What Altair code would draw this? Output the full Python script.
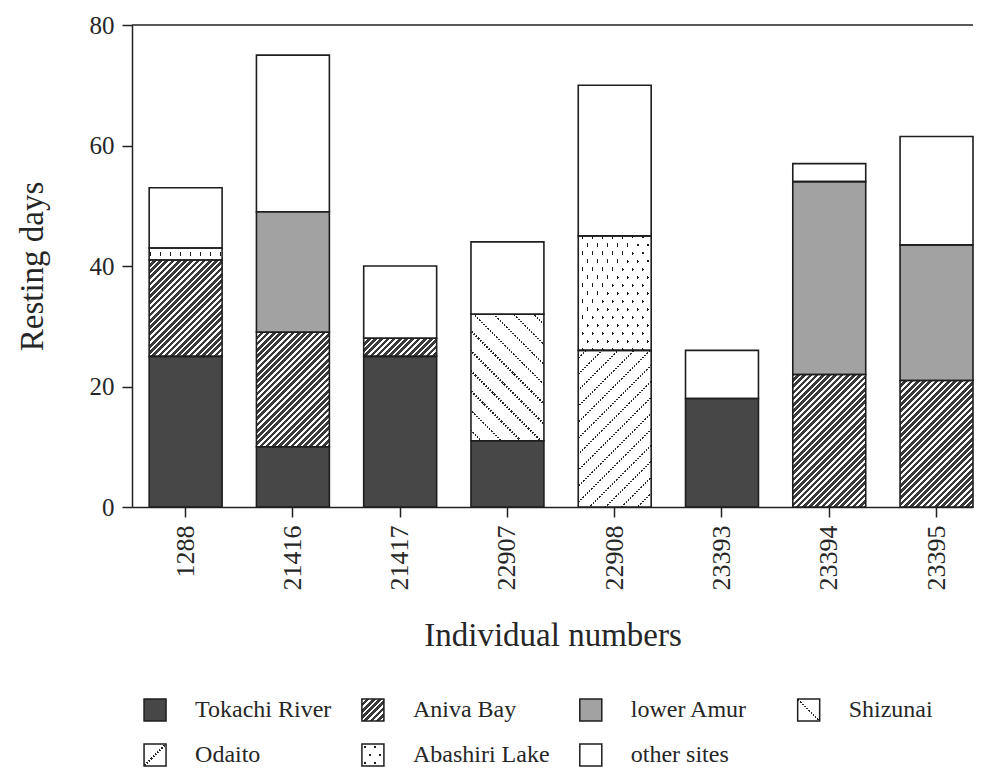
import math
import altair as alt
import pandas as pd

# ---------------- data ----------------
ids = ["1288", "21416", "21417", "22907", "22908", "23393", "23394", "23395"]
sites = ["Tokachi River", "Aniva Bay", "lower Amur", "Shizunai", "Odaito",
         "Abashiri Lake", "other sites"]
tokachi = [25, 10, 25, 11, 0, 18, 0, 0]
aniva = [16, 19, 3, 0, 0, 0, 22, 21]
amur = [0, 20, 0, 0, 0, 0, 32, 22.5]
shizunai = [0, 0, 0, 21, 0, 0, 0, 0]
odaito = [0, 0, 0, 0, 26, 0, 0, 0]
abashiri = [2, 0, 0, 0, 19, 0, 0, 0]
other = [10, 26, 12, 12, 25, 8, 3, 18]
y_ticks = [0, 20, 40, 60, 80]

series = [tokachi, aniva, amur, shizunai, odaito, abashiri, other]
rows = []
for j, id_ in enumerate(ids):
    base = 0
    for s, vals in zip(sites, series):
        v = vals[j]
        if v > 0:
            rows.append({"id": id_, "site": s, "y0": base, "y1": base + v, "v": v})
            base += v
df = pd.DataFrame(rows)

# ---------------- style ----------------
FONT = "Liberation Serif"
TXT = "#262626"
AX = "#222222"
W, H = 841, 482
PI, PO = 0.32, 0.08
step = W / (len(ids) - PI + 2 * PO)
bw = step * (1 - PI)
ppu = H / 80.0
CLEAR = "rgba(255,255,255,0)"
base_colors = ["#474747", "#3a3a3a", "#a2a2a2", "#ffffff", "#ffffff", "#ffffff", "#ffffff"]


def lin_grad(w, h, nx, ny, period, lw, line_col, bg_col, phase=None):
    """Striped linear gradient (objectBoundingBox) with stripes of given pixel period."""
    n = math.hypot(nx, ny)
    nx, ny = nx / n, ny / n
    vals = [(nx * u * w + ny * v * h, u, v) for u, v in [(0, 0), (1, 0), (0, 1), (1, 1)]]
    tmin, u0, v0 = min(vals)
    tmax = max(vals)[0]
    L = tmax - tmin
    k = L / (nx * nx * w * w + ny * ny * h * h)
    a, b = k * nx * w, k * ny * h
    if phase is None:
        phase = (period - lw) / 2
    st = [(0.0, bg_col)]
    pos = phase
    while pos < L:
        s0 = max(pos, 0) / L
        s1 = min(pos + lw, L) / L
        if s1 > s0:
            st += [(s0, bg_col), (s0, line_col), (s1, line_col), (s1, bg_col)]
        pos += period
    st.append((1.0, bg_col))
    return alt.LinearGradient(
        gradient="linear",
        stops=[alt.GradientStop(offset=round(o, 5), color=c) for o, c in st],
        x1=u0, y1=v0, x2=u0 + a, y2=v0 + b,
    )


def patterns(site, w, h, legend=False):
    g = []
    if site == "Aniva Bay":
        g.append(lin_grad(w, h, 1, 1, 4.4, 1.8, "#ffffff", CLEAR))
    elif site == "Shizunai":
        if legend:
            g.append(lin_grad(w, h, 1, -1, 200, 1.6, "#2a2a2a", CLEAR, phase=(w + h) / math.sqrt(2) / 2 - 0.8))
        else:
            g.append(lin_grad(w, h, 1, -1, 14.1, 1.6, "#2a2a2a", CLEAR))
        g.append(lin_grad(w, h, 1, 1, 3.0, 1.6, CLEAR, "#ffffff"))
    elif site == "Odaito":
        if legend:
            g.append(lin_grad(w, h, 1, 1, 200, 1.6, "#2a2a2a", CLEAR, phase=(w + h) / math.sqrt(2) / 2 - 0.8))
        else:
            g.append(lin_grad(w, h, 1, 1, 11.3, 1.6, "#2a2a2a", CLEAR))
        g.append(lin_grad(w, h, 1, -1, 3.0, 1.6, CLEAR, "#ffffff"))
    elif site == "Abashiri Lake":
        g.append(lin_grad(w, h, 8, -5, 8.5, 1.9, "#1e1e1e", CLEAR))
        g.append(lin_grad(w, h, 8, 5, 8.5, 1.9, CLEAR, "#ffffff"))
    return g


# ---------------- main chart ----------------
X = alt.X(
    "id:N", sort=ids,
    scale=alt.Scale(domain=ids, paddingInner=PI, paddingOuter=PO, align=1),
    axis=alt.Axis(
        title="Individual numbers", labelAngle=270, labelFont=FONT, labelFontSize=26,
        labelColor=TXT, labelPadding=8, tickSize=10, tickColor=AX, tickWidth=1.5,
        domainColor=AX, domainWidth=1.5, titleFont=FONT, titleFontSize=33,
        titleFontWeight="normal", titleColor=TXT, titlePadding=29,
    ),
)
Y = alt.Y(
    "y0:Q",
    scale=alt.Scale(domain=[0, 80], nice=False, zero=True),
    axis=alt.Axis(
        title="Resting days", values=y_ticks, grid=False, labelFont=FONT, labelFontSize=25,
        labelColor=TXT, labelPadding=8, tickSize=10, tickColor=AX, tickWidth=1.5,
        domainColor=AX, domainWidth=1.5, titleFont=FONT, titleFontSize=33,
        titleFontWeight="normal", titleColor=TXT, titlePadding=40,
    ),
)
Y2 = alt.Y2("y1:Q")

base = alt.Chart().mark_bar().encode(
    x=X, y=Y, y2=Y2,
    fill=alt.Fill("site:N", scale=alt.Scale(domain=sites, range=base_colors), legend=None),
)

layers = [base]
for r in df.itertuples():
    for g in patterns(r.site, bw, r.v * ppu):
        layers.append(
            alt.Chart().mark_bar(fill=g).encode(x=X, y=Y, y2=Y2).transform_filter(
                f"datum.id == '{r.id}' && datum.site == '{r.site}'"
            )
        )

outline = alt.Chart().mark_bar(fill="transparent", stroke="#1e1e1e", strokeWidth=1.6).encode(
    x=X, y=Y, y2=Y2
)
layers.append(outline)

top_line = alt.Chart(pd.DataFrame({"y0": [80]})).mark_rule(color=AX, strokeWidth=1.5).encode(y=Y)
layers.append(top_line)

main = alt.layer(*layers, data=df).properties(width=W, height=H)

# ---------------- legend ----------------
leg = pd.DataFrame({
    "site": sites,
    "col": [i % 4 for i in range(len(sites))],
    "row": [i // 4 for i in range(len(sites))],
})
SQ = 22
LX = alt.X("col:O", scale=alt.Scale(type="point", domain=[0, 1, 2, 3], padding=0.43, align=0.123), axis=None)
LY = alt.Y("row:O", scale=alt.Scale(type="point", domain=[0, 1], padding=0), axis=None)

leg_layers = [
    alt.Chart().mark_square(size=SQ * SQ, opacity=1).encode(
        x=LX, y=LY,
        fill=alt.Fill("site:N", scale=alt.Scale(domain=sites, range=base_colors), legend=None),
    )
]
for s in sites:
    for g in patterns(s, SQ, SQ, legend=True):
        leg_layers.append(
            alt.Chart().mark_square(size=SQ * SQ, opacity=1, fill=g).encode(x=LX, y=LY)
            .transform_filter(f"datum.site == '{s}'")
        )
leg_layers.append(
    alt.Chart().mark_square(size=SQ * SQ, opacity=1, fill="transparent", stroke="#1e1e1e",
                            strokeWidth=1.5).encode(x=LX, y=LY)
)
leg_layers.append(
    alt.Chart().mark_text(align="left", baseline="middle", dx=40, font=FONT, fontSize=24,
                          color=TXT).encode(x=LX, y=LY, text="site:N")
)
legend = alt.layer(*leg_layers, data=leg).properties(width=W, height=45)

chart = (
    alt.vconcat(main, legend, spacing=44)
    .properties(padding={"left": 8, "top": 5, "right": 0, "bottom": 0})
    .configure_view(strokeWidth=0)
)

chart.save("out.html", embed_options={"renderer": "svg", "actions": False})
